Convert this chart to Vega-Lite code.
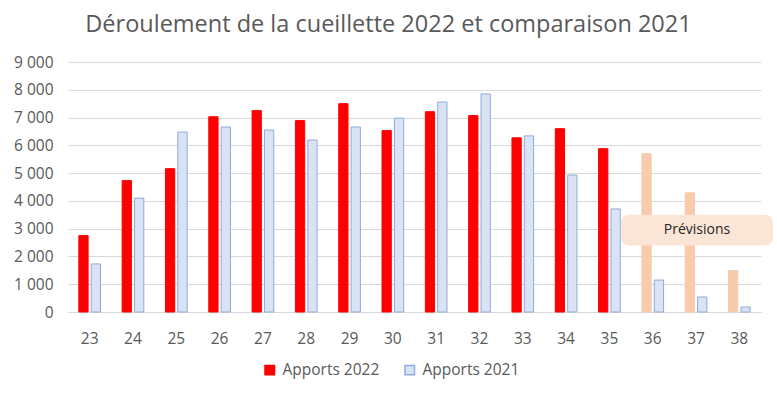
{
  "$schema": "https://vega.github.io/schema/vega-lite/v6.json",
  "autosize": {"type": "none"},
  "width": 693,
  "height": 250,
  "padding": {"left": 68, "top": 62, "right": 16, "bottom": 84},
  "background": "#ffffff",
  "config": {
    "font": "Open Sans",
    "view": {"stroke": null},
    "axis": {"labelColor": "#595959", "labelFontSize": 15.5, "labelFont": "Open Sans"}
  },
  "title": {
    "text": "Déroulement de la cueillette 2022 et comparaison 2021",
    "fontSize": 23.5,
    "fontWeight": "normal",
    "color": "#595959",
    "anchor": "middle",
    "dx": -26,
    "offset": 19
  },
  "datasets": {
    "bars": [
      {"semaine": "23", "serie": "Apports 2022", "groupe": "2022", "valeur": 2750},
      {"semaine": "23", "serie": "Apports 2021", "groupe": "2021", "valeur": 1730},
      {"semaine": "24", "serie": "Apports 2022", "groupe": "2022", "valeur": 4730},
      {"semaine": "24", "serie": "Apports 2021", "groupe": "2021", "valeur": 4100},
      {"semaine": "25", "serie": "Apports 2022", "groupe": "2022", "valeur": 5160},
      {"semaine": "25", "serie": "Apports 2021", "groupe": "2021", "valeur": 6480},
      {"semaine": "26", "serie": "Apports 2022", "groupe": "2022", "valeur": 7030},
      {"semaine": "26", "serie": "Apports 2021", "groupe": "2021", "valeur": 6660},
      {"semaine": "27", "serie": "Apports 2022", "groupe": "2022", "valeur": 7250},
      {"semaine": "27", "serie": "Apports 2021", "groupe": "2021", "valeur": 6550},
      {"semaine": "28", "serie": "Apports 2022", "groupe": "2022", "valeur": 6890},
      {"semaine": "28", "serie": "Apports 2021", "groupe": "2021", "valeur": 6190},
      {"semaine": "29", "serie": "Apports 2022", "groupe": "2022", "valeur": 7500},
      {"semaine": "29", "serie": "Apports 2021", "groupe": "2021", "valeur": 6660},
      {"semaine": "30", "serie": "Apports 2022", "groupe": "2022", "valeur": 6530},
      {"semaine": "30", "serie": "Apports 2021", "groupe": "2021", "valeur": 6980},
      {"semaine": "31", "serie": "Apports 2022", "groupe": "2022", "valeur": 7210},
      {"semaine": "31", "serie": "Apports 2021", "groupe": "2021", "valeur": 7560},
      {"semaine": "32", "serie": "Apports 2022", "groupe": "2022", "valeur": 7070},
      {"semaine": "32", "serie": "Apports 2021", "groupe": "2021", "valeur": 7850},
      {"semaine": "33", "serie": "Apports 2022", "groupe": "2022", "valeur": 6270},
      {"semaine": "33", "serie": "Apports 2021", "groupe": "2021", "valeur": 6340},
      {"semaine": "34", "serie": "Apports 2022", "groupe": "2022", "valeur": 6600},
      {"semaine": "34", "serie": "Apports 2021", "groupe": "2021", "valeur": 4930},
      {"semaine": "35", "serie": "Apports 2022", "groupe": "2022", "valeur": 5880},
      {"semaine": "35", "serie": "Apports 2021", "groupe": "2021", "valeur": 3710},
      {"semaine": "36", "serie": "Prévisions", "groupe": "2022", "valeur": 5700},
      {"semaine": "36", "serie": "Apports 2021", "groupe": "2021", "valeur": 1150},
      {"semaine": "37", "serie": "Prévisions", "groupe": "2022", "valeur": 4290},
      {"semaine": "37", "serie": "Apports 2021", "groupe": "2021", "valeur": 540},
      {"semaine": "38", "serie": "Prévisions", "groupe": "2022", "valeur": 1490},
      {"semaine": "38", "serie": "Apports 2021", "groupe": "2021", "valeur": 180}
    ],
    "note": [
      {"debut": "35", "fin": "38", "centre": "37", "bas": 2390, "haut": 3500, "milieu": 2945, "texte": "Prévisions"}
    ]
  },
  "layer": [
    {
      "data": {"name": "bars"},
      "mark": {"type": "bar", "strokeWidth": 1},
      "encoding": {
        "x": {
          "field": "semaine",
          "type": "nominal",
          "scale": {"paddingInner": 0.5, "paddingOuter": 0.25},
          "axis": {"title": null, "labelAngle": 0, "ticks": false, "domainColor": "#d9d9d9", "labelPadding": 19}
        },
        "xOffset": {
          "field": "groupe",
          "type": "nominal",
          "sort": ["2022", "2021"],
          "scale": {"paddingInner": 0.25, "paddingOuter": 0}
        },
        "y": {
          "field": "valeur",
          "type": "quantitative",
          "scale": {"domain": [0, 9000], "nice": false},
          "axis": {
            "title": null,
            "values": [0, 1000, 2000, 3000, 4000, 5000, 6000, 7000, 8000, 9000],
            "labelOverlap": false,
            "labelExpr": "replace(format(datum.value, ','), ',', ' ')",
            "domain": false,
            "ticks": false,
            "gridColor": "#d9d9d9",
            "labelPadding": 15
          }
        },
        "fill": {
          "field": "serie",
          "type": "nominal",
          "scale": {
            "domain": ["Apports 2022", "Apports 2021", "Prévisions"],
            "range": ["#ff0000", "#dae3f3", "#f8cbad"]
          },
          "legend": {
            "title": null,
            "values": ["Apports 2022", "Apports 2021"],
            "orient": "none",
            "direction": "horizontal",
            "legendX": 194,
            "legendY": 300,
            "symbolType": "square",
            "symbolSize": 90,
            "labelFontSize": 15.5,
            "labelColor": "#595959",
            "labelOffset": 5,
            "columnPadding": 22
          }
        },
        "stroke": {
          "field": "serie",
          "type": "nominal",
          "scale": {
            "domain": ["Apports 2022", "Apports 2021", "Prévisions"],
            "range": ["#ff0000", "#8faadc", "#f8cbad"]
          },
          "legend": {
            "title": null,
            "values": ["Apports 2022", "Apports 2021"],
            "orient": "none",
            "direction": "horizontal",
            "legendX": 194,
            "legendY": 300,
            "symbolType": "square",
            "symbolSize": 90,
            "labelFontSize": 15.5,
            "labelColor": "#595959",
            "labelOffset": 5,
            "columnPadding": 22
          }
        }
      }
    },
    {
      "data": {"name": "note"},
      "mark": {"type": "rect", "fill": "#fbe5d6", "cornerRadius": 8},
      "encoding": {
        "x": {
          "field": "debut",
          "type": "nominal",
          "bandPosition": 1.03,
          "axis": {"title": null, "labelAngle": 0, "ticks": false, "domainColor": "#d9d9d9", "labelPadding": 19}
        },
        "x2": {"field": "fin", "bandPosition": 2.05},
        "y": {
          "field": "bas",
          "type": "quantitative",
          "axis": {
            "title": null,
            "values": [0, 1000, 2000, 3000, 4000, 5000, 6000, 7000, 8000, 9000],
            "labelOverlap": false,
            "labelExpr": "replace(format(datum.value, ','), ',', ' ')",
            "domain": false,
            "ticks": false,
            "gridColor": "#d9d9d9",
            "labelPadding": 15
          }
        },
        "y2": {"field": "haut"}
      }
    },
    {
      "data": {"name": "note"},
      "mark": {"type": "text", "fontSize": 14, "color": "#262626", "align": "center", "baseline": "middle"},
      "encoding": {
        "x": {
          "field": "centre",
          "type": "nominal",
          "bandPosition": 0.545,
          "axis": {"title": null, "labelAngle": 0, "ticks": false, "domainColor": "#d9d9d9", "labelPadding": 19}
        },
        "y": {
          "field": "milieu",
          "type": "quantitative",
          "axis": {
            "title": null,
            "values": [0, 1000, 2000, 3000, 4000, 5000, 6000, 7000, 8000, 9000],
            "labelOverlap": false,
            "labelExpr": "replace(format(datum.value, ','), ',', ' ')",
            "domain": false,
            "ticks": false,
            "gridColor": "#d9d9d9",
            "labelPadding": 15
          }
        },
        "text": {"field": "texte"}
      }
    }
  ]
}
